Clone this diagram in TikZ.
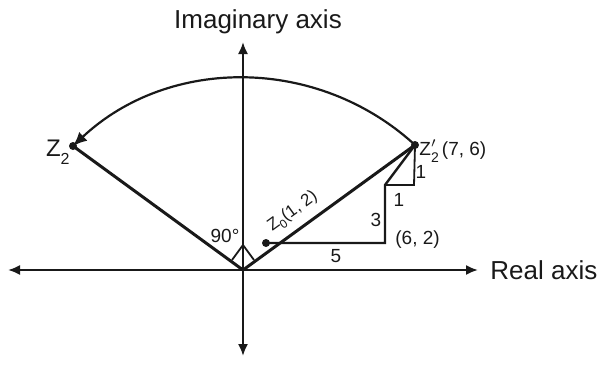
\documentclass[tikz,border=0pt]{standalone}
\usepackage{fontspec}
\setmainfont{Liberation Sans}
\usetikzlibrary{arrows.meta,positioning}
\definecolor{inkblack}{RGB}{25,25,25}
\tikzset{
  axis/.style={
    {Latex[length=6pt,width=5pt]}-{Latex[length=6pt,width=5pt]},
    line width=1pt,
    draw=inkblack
  },
  vec/.style={line width=1.5pt, draw=inkblack},
  leg/.style={line width=1.2pt, draw=inkblack},
  thinleg/.style={line width=0.9pt, draw=inkblack},
  swing/.style={-{Latex[length=7pt,width=6pt]}, line width=1.1pt, draw=inkblack},
  pt/.style={circle, fill=inkblack, inner sep=0pt, minimum size=4pt},
  lbl/.style={font=\fontsize{9.5}{11}\selectfont, inner sep=1pt, text=inkblack},
  big/.style={font=\fontsize{13}{15}\selectfont, inner sep=0pt, text=inkblack}
}

\begin{document}
\begin{tikzpicture}[x=0.5pt, y=-0.5pt]
    \useasboundingbox (0,0) rectangle (597,370);
    % axes
    \coordinate (O) at (243,270);
    \coordinate (xl) at (8,270);
    \coordinate (xr) at (478,270);
    \coordinate (yt) at (243,42);
    \coordinate (yb) at (243,356);
    \draw[axis] (xl) -- (xr);
    \draw[axis] (yt) -- (yb);
    \node[big] (imlbl) at (258,22) {Imaginary axis};
    \node[big, right=6pt of xr] (relbl) {Real axis};
    % points
    \node[pt] (z2p) at (415,145) {};
    \node[pt] (z2) at (73,146) {};
    \node[pt] (z0) at (266,243) {};
    \coordinate (c62) at (385,243);
    \coordinate (c65) at (385,185);
    \coordinate (c75) at (414,185);
    % vectors and rotation
    \draw[vec] (O) -- (z2p.center);
    \draw[vec] (O) -- (z2.center);
    \draw[swing] (z2p.center) .. controls (318,56) and (169,56) .. (z2.center);
    % steps from z0 to z2'
    \draw[leg] (z0.center) -- (c62) -- (c65) -- (z2p.center);
    \draw[thinleg] (c65) -- (c75) -- (z2p.center);
    % right angle mark
    \draw[thinleg] (232,260) -- (243,245) -- (254,260);
    % labels
    \node[lbl, font=\fontsize{12}{14}\selectfont, anchor=east] (z2lbl) at (72,152) {Z\raisebox{-0.6ex}{\fontsize{8}{9}\selectfont 2}};
    \node[lbl, anchor=west] (z2plbl) at (417,151) {Z\rlap{$'$}\raisebox{-0.7ex}{\fontsize{7}{8}\selectfont 2}\,(7, 6)};
    \node[lbl, rotate=36, font=\fontsize{8.5}{10}\selectfont] (z0lbl) at (293,212) {Z\raisebox{-0.5ex}{\fontsize{6}{7}\selectfont 0}(1, 2)};
    \node[lbl, anchor=west] (c62lbl) at (393,240) {(6, 2)};
    \node[lbl] (ang) at (225,236) {90°};
    \node[lbl] (five) at (336,256) {5};
    \node[lbl] (three) at (376,220) {3};
    \node[lbl] (oneh) at (399,200) {1};
    \node[lbl] (onev) at (421,172) {1};
  \end{tikzpicture}
\end{document}
